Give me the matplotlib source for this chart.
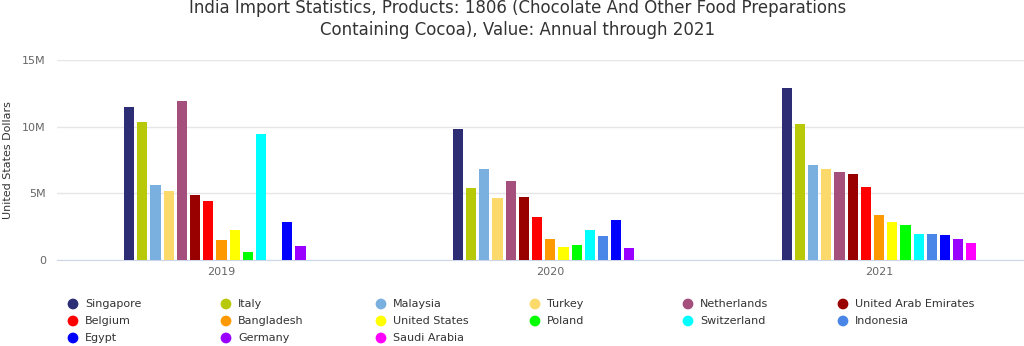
import numpy as np
import matplotlib
matplotlib.use("Agg")
import matplotlib.pyplot as plt
from matplotlib.ticker import FuncFormatter

years = ["2019", "2020", "2021"]
countries = ["Singapore", "Italy", "Malaysia", "Turkey", "Netherlands",
             "United Arab Emirates", "Belgium", "Bangladesh", "United States",
             "Poland", "Switzerland", "Indonesia", "Egypt", "Germany", "Saudi Arabia"]
colors = ["#2d2d76", "#b8c90a", "#79b0e0", "#fbd96b", "#a44f7c", "#990000",
          "#ff0000", "#ff9900", "#ffff00", "#00ff00", "#00ffff", "#4a86e8",
          "#0000ff", "#9900ff", "#ff00ff"]

# values in millions of USD, None = no bar
v2019 = [11.5, 10.33, 5.65, 5.15, 11.93, 4.88, 4.45, 1.5, 2.25, 0.58, 9.45, None, 2.83, 1.08, None]
v2020 = [9.8, 5.38, 6.85, 4.65, 5.95, 4.73, 3.2, 1.58, 1.0, 1.15, 2.23, 1.78, 2.98, 0.88, None]
v2021 = [12.93, 10.18, 7.13, 6.8, 6.58, 6.43, 5.45, 3.4, 2.83, 2.63, 1.98, 1.98, 1.85, 1.6, 1.28]

data = np.array([v2019, v2020, v2021], dtype=float)  # NaN for missing

fig = plt.figure(figsize=(10.24, 3.46), dpi=100)
W, H = 1024, 346
ax = fig.add_axes([57 / W, (H - 260) / H, (1024 - 57) / W, 200 / H])

n = len(countries)
slot = 0.0401
bw = 0.031
x = np.arange(len(years))
for i, (c, col) in enumerate(zip(countries, colors)):
    off = (i - (n - 1) / 2) * slot
    vals = data[:, i] * 1e6
    ax.bar(x + off, np.nan_to_num(vals), width=bw, color=col, edgecolor="none",
           zorder=3)

ax.set_xlim(-0.5, (1024 - 56.5) / 329 - 0.5)
ax.set_ylim(0, 15e6)
ax.set_yticks([0, 5e6, 10e6, 15e6])
ax.yaxis.set_major_formatter(FuncFormatter(lambda v, p: "0" if v == 0 else f"{int(v/1e6)}M"))
ax.set_xticks(x)
ax.set_xticklabels(years)
ax.tick_params(axis="both", length=0, labelsize=8, colors="#666666")
ax.tick_params(axis="y", pad=8)
ax.tick_params(axis="x", pad=5)
ax.grid(axis="y", color="#e6e6e6", linewidth=1, zorder=0)
for s in ["top", "right", "left"]:
    ax.spines[s].set_visible(False)
ax.spines["bottom"].set_color("#ccd6eb")
ax.set_ylabel("United States Dollars", fontsize=8, color="#333333")
ax.yaxis.set_label_coords(-44 / 967, 0.5)

fig.text(518 / W, 1 - 19 / H, "India Import Statistics, Products: 1806 (Chocolate And Other Food Preparations\nContaining Cocoa), Value: Annual through 2021",
         ha="center", va="center", fontsize=12, color="#333333",
         family=["Liberation Sans Narrow", "DejaVu Sans"], linespacing=1.25)

# legend, 6 columns, row-major
lax = fig.add_axes([0, 0, 1, 1], facecolor="none")
lax.set_xlim(0, W)
lax.set_ylim(H, 0)
lax.axis("off")
col_x = [73, 226, 381, 535, 688, 843]
row_y = [304, 321, 338]
for i, (c, col) in enumerate(zip(countries, colors)):
    r, k = divmod(i, 6)
    lax.scatter(col_x[k], row_y[r], s=60, color=col, edgecolor="none")
    lax.text(col_x[k] + 12, row_y[r], c, va="center", ha="left",
             fontsize=8, color="#333333")

fig.savefig("out.png", dpi=100)
